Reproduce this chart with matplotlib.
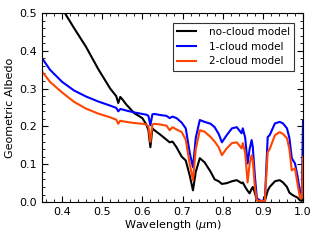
import matplotlib
matplotlib.use('Agg')
import matplotlib.pyplot as plt
from matplotlib.ticker import MultipleLocator

wl = [0.35, 0.37, 0.40, 0.43, 0.46, 0.49, 0.52, 0.535, 0.540, 0.545, 0.55, 0.56,
      0.58, 0.60, 0.61, 0.615, 0.620, 0.625, 0.63, 0.645, 0.66, 0.668, 0.675,
      0.685, 0.698, 0.708, 0.718, 0.726, 0.733, 0.743, 0.755, 0.77, 0.78, 0.79,
      0.798, 0.81, 0.823, 0.835, 0.847, 0.85, 0.856, 0.862, 0.867, 0.872, 0.875,
      0.880, 0.885, 0.895, 0.905, 0.912, 0.917, 0.93, 0.942, 0.95, 0.96, 0.966,
      0.972, 0.98, 0.986, 0.992, 0.997, 1.0]

no_cloud = [0.60, 0.565, 0.512, 0.46, 0.41, 0.352, 0.30, 0.28, 0.262, 0.278, 0.272, 0.258,
            0.235, 0.222, 0.205, 0.19, 0.145, 0.195, 0.19, 0.178, 0.165, 0.158, 0.16,
            0.145, 0.12, 0.11, 0.07, 0.031, 0.08, 0.116, 0.105, 0.08, 0.06, 0.055,
            0.048, 0.05, 0.055, 0.058, 0.05, 0.052, 0.04, 0.03, 0.023, 0.035, 0.04,
            0.025, 0.005, 0.002, 0.003, 0.03, 0.04, 0.055, 0.058, 0.052, 0.04, 0.025,
            0.02, 0.015, 0.012, 0.005, 0.003, 0.01]

one_cloud = [0.381, 0.35, 0.318, 0.295, 0.279, 0.266, 0.255, 0.249, 0.24, 0.246, 0.245, 0.242,
             0.237, 0.233, 0.231, 0.228, 0.203, 0.232, 0.233, 0.23, 0.228, 0.222, 0.226,
             0.222, 0.21, 0.195, 0.13, 0.092, 0.17, 0.217, 0.212, 0.207, 0.198, 0.18,
             0.158, 0.177, 0.195, 0.198, 0.182, 0.195, 0.17, 0.102, 0.14, 0.164, 0.145,
             0.07, 0.01, 0.003, 0.005, 0.172, 0.177, 0.208, 0.212, 0.208, 0.195, 0.17,
             0.116, 0.102, 0.07, 0.03, 0.02, 0.215]

two_cloud = [0.346, 0.318, 0.29, 0.265, 0.247, 0.234, 0.224, 0.218, 0.207, 0.215, 0.214, 0.212,
             0.209, 0.207, 0.205, 0.2, 0.159, 0.205, 0.207, 0.205, 0.202, 0.19, 0.198,
             0.192, 0.185, 0.165, 0.1, 0.058, 0.14, 0.19, 0.186, 0.172, 0.16, 0.145,
             0.124, 0.142, 0.156, 0.158, 0.142, 0.156, 0.13, 0.052, 0.1, 0.124, 0.11,
             0.04, 0.005, 0.002, 0.003, 0.132, 0.14, 0.177, 0.185, 0.18, 0.169, 0.14,
             0.084, 0.089, 0.05, 0.013, 0.01, 0.12]

plt.rcParams['font.family'] = 'DejaVu Sans'
plt.rcParams['font.size'] = 8

fig = plt.figure(figsize=(3.2, 2.4), dpi=100)
ax = fig.add_axes([0.131, 0.158, 0.816, 0.788])

ax.plot(wl, no_cloud, color='black', lw=1.5, label='no-cloud model')
ax.plot(wl, one_cloud, color='#0000ff', lw=1.5, label='1-cloud model')
ax.plot(wl, two_cloud, color='#ff4500', lw=1.5, label='2-cloud model')

ax.set_xlim(0.35, 1.0)
ax.set_ylim(0.0, 0.5)
ax.xaxis.set_major_locator(MultipleLocator(0.1))
ax.xaxis.set_minor_locator(MultipleLocator(0.02))
ax.yaxis.set_major_locator(MultipleLocator(0.1))
ax.yaxis.set_minor_locator(MultipleLocator(0.02))
ax.tick_params(which='both', direction='in', top=True, right=True)
ax.tick_params(which='major', length=4)
ax.tick_params(which='minor', length=2)

ax.set_xlabel(r'Wavelength ($\mu$m)', labelpad=1)
ax.set_ylabel('Geometric Albedo', labelpad=3)

leg = ax.legend(loc='upper right', fancybox=False, handlelength=1.8, borderpad=0.4,
                labelspacing=0.45, handletextpad=1.2, fontsize=7.5,
                bbox_to_anchor=(0.985, 0.975))
leg.get_frame().set_edgecolor('black')
leg.get_frame().set_linewidth(0.8)

fig.savefig('out.png', dpi=100)
